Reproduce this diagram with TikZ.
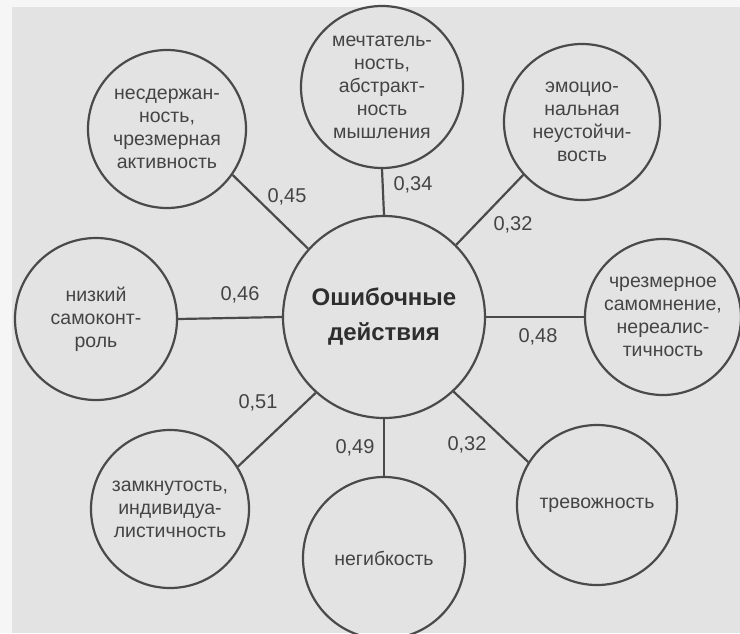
\documentclass[tikz,border=0pt]{standalone}
\usepackage{fontspec}
\setmainfont{Liberation Sans}
\definecolor{bg}{HTML}{E3E3E3}
\definecolor{margin}{HTML}{F6F6F6}
\definecolor{linec}{HTML}{4A4A4A}
\definecolor{txt}{HTML}{444444}
\definecolor{ctxt}{HTML}{2E2E2E}
\begin{document}
\begin{tikzpicture}[x=1pt,y=-1pt,
  bub/.style={circle,draw=linec,line width=2.2pt,inner sep=0pt,minimum size=#1,align=center,text=txt,font=\fontsize{19.5}{23}\selectfont},
  lbl/.style={text=txt,font=\fontsize{20}{23}\selectfont,inner sep=0pt},
  conn/.style={draw=linec,line width=2.2pt}]
\useasboundingbox (0,0) rectangle (740,633);
\fill[margin] (0,0) rectangle (740,633);
\fill[bg] (12,7) rectangle (740,633);
\node[bub=202pt,text=ctxt,font=\bfseries\fontsize{24}{35}\selectfont] (c) at (384,317) {Ошибочные\\действия};
\node[bub=158pt] (n1) at (167,129) {несдержан-\\ность,\\чрезмерная\\активность};
\node[bub=162pt] (n2) at (382,87) {мечтатель-\\ность,\\абстракт-\\ность\\мышления};
\node[bub=156pt] (n3) at (582,122) {эмоцио-\\нальная\\неустойчи-\\вость};
\node[bub=156pt] (n4) at (663,317) {чрезмерное\\самомнение,\\нереалис-\\тичность};
\node[bub=160pt] (n5) at (597,505) {тревожность};
\node[bub=162pt] (n6) at (384,558) {негибкость};
\node[bub=158pt] (n7) at (170,509) {замкнутость,\\индивидуа-\\листичность};
\node[bub=162pt] (n8) at (96,319) {низкий\\самоконт-\\роль};
\draw[conn] (c.138) -- (n1.-35);
\draw[conn] (c.90) -- (n2.-90);
\draw[conn] (c.45) -- (n3.222);
\draw[conn] (c.0) -- (n4.180);
\draw[conn] (c.-47) -- (n5.148);
\draw[conn] (c.-90) -- (n6.90);
\draw[conn] (c.228) -- (n7.32);
\draw[conn] (c.180) -- (n8.0);
\node[lbl] (l1) at (287,197) {0,45};
\node[lbl] (l2) at (413,185) {0,34};
\node[lbl] (l3) at (513,225) {0,32};
\node[lbl] (l4) at (538,337) {0,48};
\node[lbl] (l5) at (467,445) {0,32};
\node[lbl] (l6) at (355,448) {0,49};
\node[lbl] (l7) at (258,403) {0,51};
\node[lbl] (l8) at (240,295) {0,46};
\end{tikzpicture}
\end{document}
